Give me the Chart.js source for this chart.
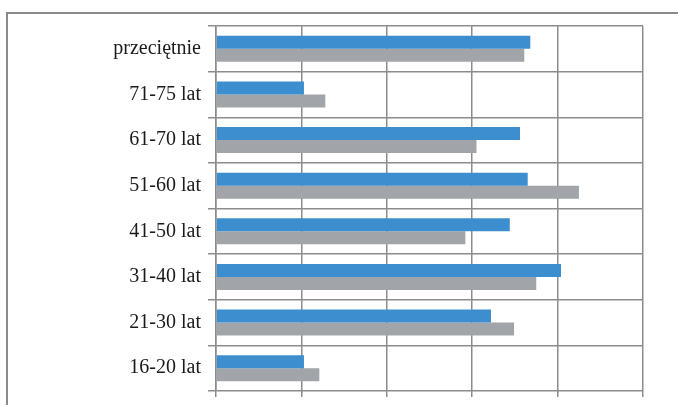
<!DOCTYPE html>
<html lang="pl">

<head>
    <meta charset="UTF-8">
    <title>Wykres</title>
    <style>
        html, body {
            margin: 0;
            padding: 0;
            background: #fff;
            overflow: hidden;
        }

        .frame {
            position: absolute;
            left: 6px;
            top: 12px;
            width: 720px;
            height: 420px;
            border-top: 2px solid #8a8a8a;
            border-left: 2px solid #8a8a8a;
        }

        .chart-box {
            position: absolute;
            left: 0;
            top: 0;
            width: 678px;
            height: 405px;
        }
    </style>
</head>

<body>
    <div class="frame"></div>
    <div class="chart-box">
        <canvas id="barChart" width="678" height="405"></canvas>
    </div>

    <script src="https://cdn.jsdelivr.net/npm/chart.js@4.4.4/dist/chart.umd.min.js"></script>
    <script>
        // categories, top to bottom
        const categories = ['przeciętnie', '71-75 lat', '61-70 lat', '51-60 lat', '41-50 lat', '31-40 lat', '21-30 lat', '16-20 lat'];

        // series values (axis labels not visible)
        const seriesBlue = [3.68, 1.03, 3.56, 3.65, 3.44, 4.04, 3.22, 1.03];
        const seriesGray = [3.61, 1.28, 3.05, 4.25, 2.92, 3.75, 3.49, 1.21];

        // value axis
        const axisMin = 0;
        const axisMax = 5;
        const axisStep = 1;

        const gridColor = '#8c8c8c';

        const ctx = document.getElementById('barChart').getContext('2d');
        new Chart(ctx, {
            type: 'bar',
            data: {
                labels: categories,
                datasets: [{
                    label: 'A',
                    data: seriesBlue,
                    backgroundColor: '#3d8ecf',
                    barPercentage: 1,
                    categoryPercentage: 0.57
                }, {
                    label: 'B',
                    data: seriesGray,
                    backgroundColor: '#a1a5a9',
                    barPercentage: 1,
                    categoryPercentage: 0.57
                }]
            },
            options: {
                indexAxis: 'y',
                responsive: false,
                animation: false,
                layout: {
                    padding: { left: 0, right: 35, top: 26, bottom: 8 }
                },
                plugins: {
                    legend: { display: false },
                    tooltip: { enabled: false }
                },
                scales: {
                    x: {
                        min: axisMin,
                        max: axisMax,
                        ticks: { display: false, stepSize: axisStep },
                        grid: { color: gridColor, lineWidth: 1.5, tickLength: 6 },
                        border: { display: false }
                    },
                    y: {
                        afterFit: function (scale) {
                            scale.width = 216;
                            // labels sit inside the bands, no extra room needed
                            scale.paddingTop = 0;
                            scale.paddingBottom = 0;
                        },
                        ticks: {
                            color: '#1a1a1a',
                            padding: 7,
                            font: { family: '"Liberation Serif", "DejaVu Serif", serif', size: 20 }
                        },
                        grid: { color: gridColor, lineWidth: 1.5, tickLength: 8, offset: true },
                        border: { color: gridColor, width: 1.5 }
                    }
                }
            }
        });
    </script>
</body>

</html>
